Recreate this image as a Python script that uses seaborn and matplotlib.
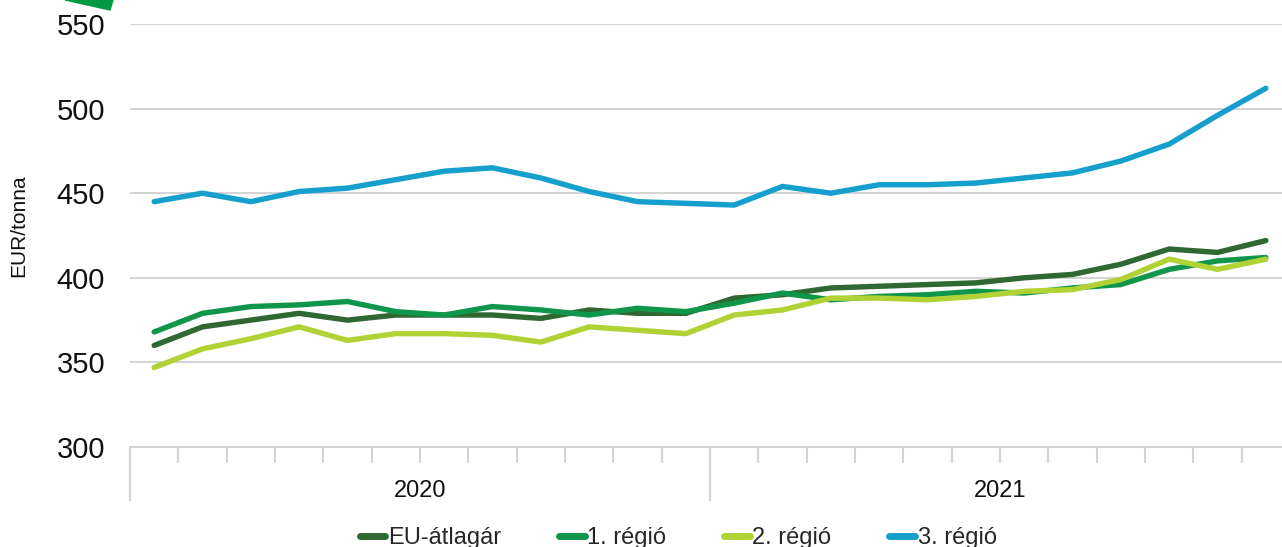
import numpy as np
import pandas as pd
import seaborn as sns
import matplotlib
matplotlib.use("Agg")
import matplotlib.pyplot as plt
from matplotlib.patches import Polygon

months = list(range(24))
years = ["2020", "2021"]
series_names = ["EU-átlagár", "1. régió", "2. régió", "3. régió"]

eu_avg = [360, 371, 375, 379, 375, 378, 378, 378, 376, 381, 379, 379,
          388, 390, 394, 395, 396, 397, 400, 402, 408, 417, 415, 422]
region1 = [368, 379, 383, 384, 386, 380, 378, 383, 381, 378, 382, 380,
           385, 391, 387, 389, 390, 392, 391, 394, 396, 405, 410, 412]
region2 = [347, 358, 364, 371, 363, 367, 367, 366, 362, 371, 369, 367,
           378, 381, 388, 388, 387, 389, 392, 393, 399, 411, 405, 411]
region3 = [445, 450, 445, 451, 453, 458, 463, 465, 459, 451, 445, 444,
           443, 454, 450, 455, 455, 456, 459, 462, 469, 479, 496, 512]

colors = ["#2f6830", "#10964a", "#b1d235", "#149fcd"]

df = pd.DataFrame({
    "month": months * 4,
    "value": eu_avg + region1 + region2 + region3,
    "series": sum([[n] * 24 for n in series_names], []),
})

sns.set_theme(style="white")
plt.rcParams["font.family"] = ["Liberation Sans", "DejaVu Sans"]

W, H = 1282, 547
fig = plt.figure(figsize=(W / 100, H / 100), dpi=100)
ax = fig.add_axes([130 / W, (H - 447) / H, 1160 / W, 423 / H])

sns.lineplot(data=df, x="month", y="value", hue="series", hue_order=series_names,
             palette=colors, linewidth=3.9, ax=ax, legend=False,
             solid_capstyle="round", solid_joinstyle="round")

ax.set_xlim(-0.5, 23.5)
ax.set_ylim(300, 550)
ax.set_yticks([300, 350, 400, 450, 500, 550])
ax.yaxis.grid(True, color="#d4d4d4", linewidth=1.5)
ax.set_axisbelow(True)
for s in ["left", "right", "top"]:
    ax.spines[s].set_visible(False)
ax.spines["bottom"].set_color("#d4d4d4")
ax.spines["bottom"].set_linewidth(1.5)

ax.tick_params(axis="y", length=0, pad=18, labelsize=21, labelcolor="#111111")
ax.set_xticks([-0.5, 11.5, 23.5])
ax.set_xticklabels([])
ax.set_xticks([k - 0.5 for k in range(1, 24) if k != 12], minor=True)
ax.tick_params(axis="x", which="both", bottom=True, direction="out",
               color="#d4d4d4", width=1.5)
ax.tick_params(axis="x", which="major", length=39)
ax.tick_params(axis="x", which="minor", length=11.5)
ax.set_xlabel("")
ax.set_ylabel("")

for i, y in enumerate(years):
    ax.text(5.5 + 12 * i, -0.105, y, transform=ax.get_xaxis_transform(),
            ha="center", va="center", fontsize=17, color="#111111")

fig.text(19 / W, (H - 226) / H, "EUR/tonna", rotation=90, ha="center", va="center",
         fontsize=15, color="#111111")

handles = [plt.Line2D([0], [0], color=c, lw=5, solid_capstyle="round") for c in colors]
fig.legend(handles, series_names, loc="center", ncol=4,
           bbox_to_anchor=(678 / W, (H - 538) / H), frameon=False,
           fontsize=17, handlelength=1.1, handletextpad=0.1, columnspacing=2.45)

tri = Polygon([[65 / W, 1.0], [113 / W, 1.0], [110 / W, (H - 10) / H]],
              closed=True, transform=fig.transFigure, color="#009a44")
fig.patches.append(tri)

fig.savefig("out.png", dpi=100)
